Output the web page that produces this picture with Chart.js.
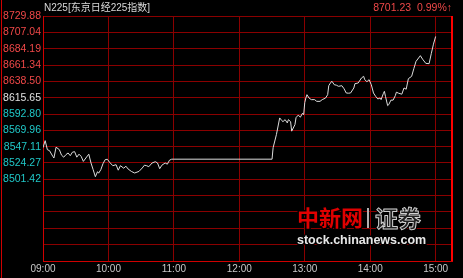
<!DOCTYPE html>
<html>
<head>
<meta charset="utf-8">
<script src="https://cdn.jsdelivr.net/npm/chart.js@4/dist/chart.umd.min.js"></script>
<style>
  html, body { margin: 0; padding: 0; background: #000; }
  canvas { display: block; }
</style>
</head>
<body>
<canvas id="n225" width="463" height="278"></canvas>
<script>
// minutes after 09:00 open, and index level at that minute
const minutes = [0, 2, 4, 6, 9, 10, 12, 15, 17, 19, 21, 23, 25, 27, 29, 31, 33, 35, 37, 40,
  42, 44, 46, 48, 50, 51, 53, 55, 57, 59, 61, 64, 67, 69, 71, 74, 76, 78, 81, 84,
  88, 91, 93, 95, 97, 100, 103, 105, 107, 109, 112, 114, 116, 118, 120,
  210, 211, 214, 217, 219, 220, 222, 224, 225, 227, 228, 231, 232, 234, 236, 238, 239,
  240, 241, 242, 244, 246, 249, 251, 254, 256, 259, 261, 262, 264, 265, 267, 269, 271,
  274, 276, 278, 280, 282, 285, 286, 289, 292, 294, 295, 297, 299, 301, 303, 305, 307,
  309, 310, 312, 313, 314, 316, 317, 319, 321, 323, 324, 326, 329, 331, 333, 335, 338,
  340, 342, 346, 348, 351, 354, 356, 358, 360];
const prices = [8545.7, 8555.5, 8542.9, 8541.5, 8533.5, 8531.3, 8546.4, 8542.9, 8535.2, 8532.4,
  8535.9, 8538.3, 8534.5, 8539.4, 8540.1, 8532.4, 8536.6, 8533.5, 8526.5, 8532.7,
  8536.6, 8524.3, 8514.9, 8505.1, 8512.1, 8510.0, 8514.9, 8523.3, 8528.9, 8529.5,
  8525.4, 8520.5, 8521.9, 8514.2, 8520.5, 8517.0, 8519.8, 8515.9, 8512.5, 8510.3,
  8512.5, 8517.3, 8521.2, 8520.5, 8519.1, 8524.3, 8526.1, 8524.3, 8516.3, 8521.2,
  8524.3, 8522.6, 8528.2, 8529.6, 8529.6,
  8529.6, 8545.7, 8563.9, 8587.3, 8583.5, 8582.1, 8584.9, 8580.3, 8584.9, 8582.1,
  8568.8, 8577.9, 8587.7, 8591.2, 8588.4, 8594.0, 8591.9,
  8608.7, 8615.2, 8619.8, 8615.0, 8612.9, 8612.9, 8610.5, 8610.5, 8612.9, 8615.0,
  8619.8, 8632.4, 8637.3, 8638.5, 8633.8, 8633.1, 8631.5,
  8632.4, 8628.2, 8622.2, 8621.9, 8622.2, 8629.2, 8635.2, 8636.2, 8643.2, 8645.5,
  8640.8, 8638.0, 8640.8, 8633.8, 8622.2, 8617.5, 8613.8,
  8615.2, 8612.9, 8621.2, 8624.5, 8617.5, 8604.5, 8605.9, 8612.2, 8612.2, 8618.4,
  8623.3, 8621.9, 8620.5, 8629.2, 8627.5, 8642.2, 8645.5,
  8656.2, 8666.4, 8674.4, 8669.5, 8663.6, 8663.2, 8677.2, 8690.5, 8701.23];

const yTickLabels = ['8729.88', '8707.04', '8684.19', '8661.34', '8638.50', '8615.65',
  '8592.80', '8569.96', '8547.11', '8524.27', '8501.42'];
const xTickLabels = ['09:00', '10:00', '11:00', '12:00', '13:00', '14:00', '15:00'];
const prevClose = 8615.65;
const lastText = '8701.23  0.99%\u2191';
const titleText = 'N225[东京日经225指数]';

// the grid keeps going below the labelled rows without labels
const yLabelled = yTickLabels.map(Number);
const yStep = (yLabelled[0] - yLabelled[yLabelled.length - 1]) / (yLabelled.length - 1);
const yTicks = yLabelled.slice();
for (let k = 1; k <= 5; k++) yTicks.push(yLabelled[yLabelled.length - 1] - k * yStep);
const yMin = yTicks[yTicks.length - 1];

const FONT = "'Liberation Sans', Arial, sans-serif";

const extras = {
  id: 'extras',
  afterDraw(chart) {
    const ctx = chart.ctx;
    const a = chart.chartArea;
    ctx.save();
    // outer frame lines
    ctx.strokeStyle = '#d00000';
    ctx.lineWidth = 1;
    ctx.beginPath();
    ctx.moveTo(1.5, 0); ctx.lineTo(1.5, chart.height);
    ctx.stroke();
    ctx.strokeStyle = '#ff0000';
    ctx.lineWidth = 2;
    ctx.beginPath();
    ctx.moveTo(a.right, a.top); ctx.lineTo(a.right, a.bottom);
    ctx.stroke();

    // header texts
    ctx.font = "10px 'Liberation Sans', 'Noto Sans CJK SC', sans-serif";
    ctx.textBaseline = 'middle';
    ctx.fillStyle = '#d8d8d8';
    ctx.textAlign = 'left';
    ctx.fillText(titleText, a.left + 1, 8.5);
    ctx.font = "10.5px " + FONT;
    ctx.fillStyle = '#f04848';
    ctx.textAlign = 'right';
    ctx.fillText(lastText, a.right, 8.5);

    // watermark
    ctx.textAlign = 'left';
    ctx.lineJoin = 'round';
    ctx.font = "bold 22px 'Noto Sans CJK SC', sans-serif";
    ctx.lineWidth = 3;
    ctx.strokeStyle = '#000';
    ctx.strokeText('中新网', 297, 218);
    ctx.fillStyle = '#e00000';
    ctx.fillText('中新网', 297, 218);
    ctx.fillStyle = '#b0b0b0';
    ctx.fillRect(367, 208, 2, 20);
    ctx.font = "bold 23px 'Noto Sans CJK SC', sans-serif";
    ctx.strokeText('证券', 375, 218);
    ctx.fillStyle = '#202020';
    ctx.fillText('证券', 375, 218);
    ctx.lineWidth = 1;
    ctx.strokeStyle = '#d0d0d0';
    ctx.strokeText('证券', 375, 218);
    ctx.font = "bold 12.5px " + FONT;
    ctx.lineWidth = 3;
    ctx.strokeStyle = '#000';
    ctx.strokeText('stock.chinanews.com', 297, 241);
    ctx.fillStyle = '#e8e8e8';
    ctx.fillText('stock.chinanews.com', 297, 241);
    ctx.restore();
  }
};

new Chart(document.getElementById('n225'), {
  type: 'line',
  data: {
    datasets: [{
      data: minutes.map((m, i) => ({ x: m, y: prices[i] })),
      borderColor: '#dcdcdc',
      borderWidth: 1,
      pointRadius: 0,
      tension: 0,
      fill: false
    }]
  },
  options: {
    responsive: false,
    devicePixelRatio: 1,
    animation: false,
    layout: { padding: { top: 16, right: 11, left: 0, bottom: 0 } },
    plugins: { legend: { display: false }, tooltip: { enabled: false } },
    scales: {
      x: {
        type: 'linear',
        min: 0,
        max: 375,
        afterBuildTicks: (axis) => { axis.ticks = xTickLabels.map((_, i) => ({ value: i * 60 })); },
        afterFit: (axis) => { axis.height = 17; },
        ticks: {
          autoSkip: false,
          maxRotation: 0,
          padding: 2,
          color: '#c8c8c8',
          font: { family: FONT, size: 10 },
          callback: (v) => xTickLabels[Math.round(v / 60)]
        },
        grid: { color: '#8a0000', lineWidth: 1, tickLength: 0 },
        border: { color: '#d00000', width: 1 }
      },
      y: {
        min: yMin,
        max: yLabelled[0],
        afterBuildTicks: (axis) => { axis.ticks = yTicks.map(v => ({ value: v })); },
        afterFit: (axis) => { axis.width = 43; },
        ticks: {
          autoSkip: false,
          padding: 2,
          font: { family: FONT, size: 10.5 },
          color: (c) => {
            const v = c.tick.value;
            if (Math.abs(v - prevClose) < 0.01) return '#e0e0e0';
            return v > prevClose ? '#f04848' : '#20c8c8';
          },
          callback: (v, i) => (i < yTickLabels.length ? yTickLabels[i] : '')
        },
        grid: { color: '#8a0000', lineWidth: 1, tickLength: 0 },
        border: { color: '#d00000', width: 1 }
      }
    }
  },
  plugins: [extras]
});
</script>
</body>
</html>
